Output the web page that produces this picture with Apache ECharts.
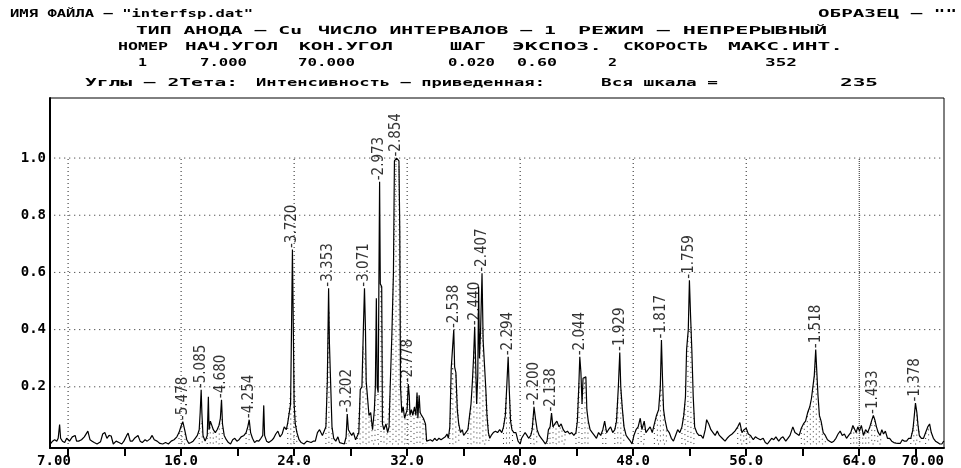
<!DOCTYPE html>
<html>
<head>
<meta charset="UTF-8">
<title>interfsp.dat</title>
<style>
  * { margin: 0; padding: 0; }
  #chart { width: 961px; height: 468px; }
</style>
</head>
<body>
<div id="chart"></div>
<script src="https://cdn.jsdelivr.net/npm/echarts@6/dist/echarts.min.js"></script>
<script>
// спектр: [2Тета, приведенная интенсивность]
var spec07_16 = [[6.75,0.0],[6.9,0.01],[7.05,0.015],[7.2,0.01],[7.3,0.02],[7.4,0.068],[7.47,0.02],[7.6,0.01],[7.76,0.005],[7.9,0.02],[8.1,0.01],[8.3,0.025],[8.5,0.03],[8.6,0.01],[8.75,0.01],[8.95,0.015],[9.15,0.025],[9.4,0.045],[9.55,0.015],[9.7,0.01],[9.85,0.005],[10.05,0.0],[10.3,0.008],[10.45,0.035],[10.6,0.04],[10.75,0.02],[10.9,0.03],[11.05,0.028],[11.2,0.0],[11.4,0.01],[11.6,0.005],[11.8,0.0],[11.95,0.01],[12.15,0.03],[12.25,0.038],[12.4,0.01],[12.55,0.01],[12.7,0.02],[12.95,0.03],[13.1,0.01],[13.25,0.005],[13.45,0.015],[13.6,0.01],[13.8,0.018],[13.95,0.03],[14.1,0.015],[14.3,0.01],[14.5,0.002],[14.7,0.0],[14.9,0.005],[15.1,0.0],[15.3,0.01],[15.5,0.015],[15.7,0.025],[15.85,0.04]];
var spec16_24 = [[15.98,0.06],[16.12,0.078],[16.25,0.05],[16.4,0.015],[16.55,0.002],[16.7,0.005],[16.85,0.01],[17.0,0.02],[17.15,0.03],[17.28,0.05],[17.35,0.11],[17.42,0.19],[17.47,0.11],[17.55,0.03],[17.7,0.01],[17.85,0.03],[17.93,0.165],[17.98,0.05],[18.07,0.08],[18.15,0.077],[18.28,0.05],[18.42,0.04],[18.55,0.05],[18.68,0.065],[18.78,0.09],[18.86,0.155],[18.93,0.07],[19.05,0.03],[19.2,0.015],[19.35,0.005],[19.5,0.0],[19.65,0.015],[19.8,0.02],[19.95,0.01],[20.1,0.015],[20.25,0.025],[20.45,0.03],[20.6,0.04],[20.72,0.06],[20.82,0.085],[20.92,0.04],[21.05,0.02],[21.2,0.005],[21.35,0.012],[21.5,0.01],[21.65,0.02],[21.78,0.03],[21.85,0.135],[21.91,0.03],[22.05,0.01],[22.2,0.005],[22.4,0.012],[22.55,0.02],[22.7,0.035],[22.85,0.045],[23.0,0.025],[23.15,0.035],[23.3,0.06],[23.45,0.05],[23.55,0.075],[23.65,0.07],[23.75,0.14],[23.82,0.42],[23.88,0.68],[23.94,0.42]];
var spec24_32 = [[24.0,0.14],[24.08,0.07],[24.2,0.04],[24.35,0.015],[24.5,0.005],[24.7,0.0],[24.9,0.01],[25.05,0.008],[25.2,0.005],[25.35,0.01],[25.5,0.01],[25.65,0.04],[25.8,0.05],[25.9,0.055],[26.0,0.03],[26.12,0.025],[26.25,0.06],[26.35,0.22],[26.44,0.545],[26.5,0.35],[26.58,0.22],[26.68,0.06],[26.8,0.02],[26.95,0.01],[27.1,0.025],[27.22,0.005],[27.35,0.0],[27.55,0.0],[27.68,0.025],[27.76,0.105],[27.84,0.05],[27.95,0.04],[28.08,0.03],[28.2,0.04],[28.35,0.015],[28.45,0.01],[28.58,0.04],[28.68,0.19],[28.8,0.2],[28.9,0.4],[28.98,0.545],[29.05,0.4],[29.1,0.22],[29.22,0.22],[29.3,0.1],[29.42,0.11],[29.55,0.05],[29.68,0.12],[29.75,0.2],[29.82,0.51],[29.88,0.2],[29.95,0.18],[30.0,0.56],[30.05,0.917],[30.1,0.56],[30.2,0.55],[30.25,0.07],[30.35,0.05],[30.5,0.07],[30.62,0.04],[30.72,0.06],[30.8,0.2],[30.92,0.385],[31.03,0.6],[31.1,0.99],[31.25,1.0],[31.42,0.99],[31.48,0.74],[31.53,0.2],[31.62,0.11],[31.72,0.13],[31.82,0.09],[31.92,0.095]];
var spec32_40 = [[32.0,0.12],[32.08,0.21],[32.15,0.17],[32.2,0.1],[32.3,0.12],[32.4,0.1],[32.52,0.13],[32.62,0.1],[32.7,0.18],[32.76,0.09],[32.85,0.17],[32.92,0.11],[33.02,0.1],[33.15,0.09],[33.3,0.07],[33.38,0.01],[33.5,0.005],[33.65,0.015],[33.8,0.01],[33.95,0.02],[34.1,0.012],[34.25,0.02],[34.4,0.015],[34.55,0.02],[34.7,0.025],[34.82,0.035],[34.92,0.02],[35.02,0.06],[35.12,0.265],[35.22,0.265],[35.3,0.40],[35.36,0.27],[35.45,0.25],[35.55,0.12],[35.65,0.07],[35.78,0.04],[35.9,0.05],[36.0,0.03],[36.15,0.04],[36.3,0.05],[36.42,0.1],[36.52,0.14],[36.62,0.22],[36.7,0.3],[36.78,0.41],[36.84,0.3],[36.92,0.14],[37.0,0.24],[37.06,0.55],[37.12,0.3],[37.2,0.4],[37.3,0.597],[37.38,0.36],[37.48,0.36],[37.56,0.2],[37.65,0.1],[37.75,0.04],[37.85,0.02],[37.95,0.03],[38.1,0.04],[38.25,0.045],[38.4,0.04],[38.55,0.05],[38.7,0.04],[38.82,0.06],[38.95,0.1],[39.05,0.2],[39.15,0.305],[39.22,0.2],[39.32,0.08],[39.42,0.05],[39.55,0.04],[39.7,0.04],[39.85,0.01]];
var spec40_48 = [[40.0,0.0],[40.1,0.02],[40.2,0.015],[40.35,0.04],[40.48,0.03],[40.6,0.02],[40.75,0.03],[40.85,0.05],[40.98,0.13],[41.08,0.09],[41.2,0.05],[41.35,0.03],[41.5,0.02],[41.65,0.01],[41.78,0.0],[41.9,0.01],[42.0,0.05],[42.12,0.06],[42.22,0.108],[42.32,0.06],[42.45,0.07],[42.6,0.08],[42.75,0.06],[42.9,0.07],[43.05,0.05],[43.2,0.04],[43.35,0.045],[43.5,0.035],[43.65,0.04],[43.8,0.03],[43.95,0.04],[44.05,0.08],[44.15,0.2],[44.22,0.305],[44.3,0.25],[44.38,0.14],[44.45,0.23],[44.5,0.235],[44.65,0.235],[44.72,0.12],[44.82,0.08],[44.95,0.05],[45.1,0.04],[45.25,0.03],[45.4,0.02],[45.55,0.04],[45.7,0.03],[45.85,0.05],[45.98,0.08],[46.12,0.04],[46.25,0.05],[46.4,0.06],[46.55,0.04],[46.7,0.05],[46.82,0.08],[46.95,0.2],[47.05,0.32],[47.12,0.2],[47.22,0.13],[47.35,0.06],[47.5,0.03],[47.65,0.02],[47.8,0.01],[47.92,0.0]];
var spec48_56 = [[48.05,0.03],[48.2,0.05],[48.35,0.06],[48.5,0.09],[48.62,0.05],[48.78,0.08],[48.9,0.04],[49.05,0.05],[49.2,0.06],[49.35,0.04],[49.5,0.07],[49.65,0.1],[49.8,0.12],[49.92,0.2],[50.0,0.364],[50.08,0.22],[50.15,0.12],[50.25,0.085],[50.4,0.05],[50.55,0.04],[50.7,0.02],[50.85,0.01],[51.0,0.03],[51.15,0.05],[51.3,0.04],[51.45,0.06],[51.58,0.1],[51.7,0.165],[51.78,0.33],[51.9,0.4],[51.98,0.573],[52.06,0.45],[52.15,0.33],[52.25,0.165],[52.35,0.06],[52.5,0.04],[52.65,0.03],[52.8,0.03],[52.95,0.02],[53.1,0.05],[53.2,0.085],[53.35,0.07],[53.5,0.05],[53.65,0.04],[53.8,0.03],[53.95,0.045],[54.1,0.03],[54.3,0.02],[54.5,0.01],[54.65,0.02],[54.85,0.03],[55.0,0.035],[55.2,0.045],[55.4,0.06],[55.55,0.075],[55.7,0.04],[55.85,0.05]];
var spec56_64 = [[56.0,0.055],[56.15,0.035],[56.3,0.03],[56.5,0.015],[56.65,0.025],[56.8,0.02],[57.0,0.015],[57.2,0.02],[57.35,0.005],[57.5,0.0],[57.65,0.01],[57.8,0.02],[57.95,0.015],[58.1,0.025],[58.3,0.01],[58.45,0.02],[58.6,0.025],[58.8,0.01],[58.95,0.02],[59.1,0.03],[59.3,0.06],[59.45,0.04],[59.6,0.035],[59.75,0.03],[59.9,0.055],[60.05,0.07],[60.2,0.08],[60.35,0.11],[60.5,0.13],[60.62,0.16],[60.72,0.2],[60.82,0.24],[60.92,0.33],[61.0,0.25],[61.08,0.17],[61.18,0.1],[61.3,0.08],[61.45,0.04],[61.6,0.03],[61.75,0.015],[61.9,0.01],[62.05,0.005],[62.2,0.01],[62.35,0.02],[62.5,0.035],[62.65,0.045],[62.8,0.03],[62.95,0.035],[63.1,0.02],[63.25,0.03],[63.4,0.04],[63.55,0.065],[63.65,0.07],[63.78,0.04],[63.9,0.06]];
var spec64_70 = [[64.02,0.045],[64.15,0.065],[64.3,0.03],[64.45,0.05],[64.6,0.04],[64.75,0.06],[64.9,0.085],[65.0,0.10],[65.1,0.085],[65.22,0.06],[65.35,0.04],[65.48,0.03],[65.6,0.05],[65.72,0.035],[65.85,0.045],[66.0,0.02],[66.15,0.02],[66.3,0.01],[66.45,0.005],[66.6,0.003],[66.75,0.002],[66.9,0.002],[67.05,0.015],[67.2,0.01],[67.35,0.01],[67.5,0.02],[67.65,0.02],[67.8,0.05],[67.9,0.1],[67.98,0.143],[68.08,0.11],[68.15,0.07],[68.25,0.03],[68.4,0.02],[68.55,0.02],[68.7,0.04],[68.85,0.06],[68.98,0.07],[69.1,0.04],[69.25,0.02],[69.4,0.01],[69.55,0.005],[69.7,0.0],[69.85,0.0],[69.95,0.008],[70.0,0.01]];

// пики: угол, высота, межплоскостное расстояние
var peakAngles  = [16.12, 17.42, 18.86, 20.82, 23.88, 26.44, 27.76, 28.98, 30.05, 31.25, 32.08, 35.3, 36.78, 37.3, 39.15, 40.98, 42.22, 44.22, 47.05, 50.0, 51.98, 60.92, 65.0, 67.98];
var peakHeights = [0.078, 0.19, 0.155, 0.085, 0.68, 0.545, 0.105, 0.545, 0.917, 1.0, 0.21, 0.40, 0.41, 0.597, 0.305, 0.13, 0.108, 0.305, 0.32, 0.364, 0.573, 0.33, 0.10, 0.143];
var peakD = ['5.478', '5.085', '4.680', '4.254', '3.720', '3.353', '3.202', '3.071', '2.973', '2.854', '2.778', '2.538', '2.440', '2.407', '2.294', '2.200', '2.138', '2.044', '1.929', '1.817', '1.759', '1.518', '1.433', '1.378'];

// участки, залитые точками
var fillRanges = [[15.85, 16.4], [17.28, 17.55], [17.85, 19.05], [20.6, 20.95], [23.55, 24.2], [26.25, 26.68], [27.68, 27.95], [28.45, 33.38], [35.02, 35.78], [36.3, 37.85], [38.82, 39.55], [40.75, 41.35], [41.9, 43.2], [43.95, 44.95], [45.85, 46.12], [46.7, 47.5], [48.35, 48.78], [49.5, 50.4], [51.45, 52.5], [55.4, 56.3], [59.9, 61.6], [63.4, 65.6], [67.65, 68.4], [68.7, 69.1]];

var xTicks = [8, 12, 16, 20, 24, 28, 32, 36, 40, 44, 48, 52, 56, 60, 64, 68];
var xLabels = [7, 16, 24, 32, 40, 48, 56, 64, 70];
var yLabels = [0.2, 0.4, 0.6, 0.8, 1.0];
var vGrid = [8, 16, 24, 32, 40, 48, 56, 64];
var hGrid = [0.2, 0.4, 0.6, 0.8, 1.0];

var X_MIN = 6.72, X_MAX = 70, Y_MIN = -0.014, Y_MAX = 1.21;
var G_LEFT = 50, G_RIGHT = 17, G_TOP = 98, G_BOTTOM = 20;

var chart = echarts.init(document.getElementById('chart'));

var spectrum = [].concat(spec07_16, spec16_24, spec24_32, spec32_40, spec40_48, spec48_56, spec56_64, spec64_70);
var peaks = peakAngles.map(function (a, i) { return [a, peakHeights[i], peakD[i]]; });

// точечная штриховка: пунктирные столбики через 3 px под кривой
var pxX = (961 - G_LEFT - G_RIGHT) / (X_MAX - X_MIN);
var pxY = (468 - G_TOP - G_BOTTOM) / (Y_MAX - Y_MIN);
function curveAt(x) {
	for (var i = 1; i < spectrum.length; i++) {
		if (spectrum[i][0] >= x) {
			var a = spectrum[i - 1], b = spectrum[i];
			return a[1] + (b[1] - a[1]) * (x - a[0]) / (b[0] - a[0]);
		}
	}
	return 0;
}
var stippleSeries = fillRanges.map(function (r) {
	var pts = [], up = true;
	for (var x = r[0]; x <= r[1]; x += 3 / pxX) {
		var top = Math.max(curveAt(x) - 1.5 / pxY, 0);
		if (up) { pts.push([x, 0], [x, top]); } else { pts.push([x, top], [x, 0]); }
		up = !up;
	}
	return {
		type: 'line', data: pts, symbol: 'none', silent: true, z: 3,
		lineStyle: { color: '#333', width: 1, type: [1, 4] }
	};
});

// линии сетки: отдельные линейные серии
var gridSeries = vGrid.map(function (v) {
	return {
		type: 'line', data: [[v, Y_MIN], [v, 1.0]], symbol: 'none', silent: true, z: 2,
		lineStyle: { color: '#222', width: 1, type: v === 64 ? [1, 1] : [1, 3] }
	};
}).concat(hGrid.map(function (v) {
	return {
		type: 'line', data: [[X_MIN + 0.3, v], [X_MAX, v]], symbol: 'none', silent: true, z: 2,
		lineStyle: { color: '#222', width: 1, type: [1, 4] }
	};
}));

// шапка: растягиваем текст по ширине как в оригинале
var HFONT = 'bold 11px "DejaVu Sans Mono"';
var mctx = document.createElement('canvas').getContext('2d');
mctx.font = HFONT;
function hdr(text, left, right, y) {
	var w = mctx.measureText(text).width;
	return {
		type: 'text', x: left, y: y, scaleX: (right - left) / w, silent: true,
		style: { text: text, font: HFONT, fill: '#000', textAlign: 'left', textVerticalAlign: 'middle' }
	};
}
var header = [
	hdr('ИМЯ ФАЙЛА – "interfsp.dat"', 10, 253, 14),
	hdr('ОБРАЗЕЦ – ""', 818, 957, 14),
	hdr('ТИП АНОДА – Cu', 136, 302, 31),
	hdr('ЧИСЛО ИНТЕРВАЛОВ – 1', 318, 556, 31),
	hdr('РЕЖИМ – НЕПРЕРЫВНЫЙ', 578, 827, 31),
	hdr('НОМЕР', 118, 168, 47),
	hdr('НАЧ.УГОЛ', 185, 278, 47),
	hdr('КОН.УГОЛ', 299, 393, 47),
	hdr('ШАГ', 450, 486, 47),
	hdr('ЭКСПОЗ.', 512, 602, 47),
	hdr('СКОРОСТЬ', 623, 708, 47),
	hdr('МАКС.ИНТ.', 728, 843, 47),
	hdr('1', 138, 147, 63),
	hdr('7.000', 200, 247, 63),
	hdr('70.000', 298, 355, 63),
	hdr('0.020', 448, 495, 63),
	hdr('0.60', 517, 557, 63),
	hdr('2', 608, 617, 63),
	hdr('352', 765, 797, 63),
	hdr('Углы – 2Тета:', 85, 238, 83),
	hdr('Интенсивность – приведенная:', 256, 545, 83),
	hdr('Вся шкала =', 601, 718, 83),
	hdr('235', 840, 878, 83)
];

chart.setOption({
	animation: false,
	graphic: header,
	grid: {
		left: G_LEFT, right: G_RIGHT, top: G_TOP, bottom: G_BOTTOM,
		show: true, borderColor: '#000', borderWidth: 1,
		backgroundColor: 'transparent',
		outerBoundsMode: 'none'
	},
	xAxis: {
		type: 'value', min: X_MIN, max: X_MAX,
		axisLine: { onZero: false, lineStyle: { color: '#000', width: 2 } },
		axisTick: { show: true, customValues: xTicks, length: 8, lineStyle: { color: '#000', width: 2 } },
		axisLabel: {
			customValues: xLabels, margin: 6, color: '#000',
			fontFamily: 'DejaVu Sans Mono', fontWeight: 'bold', fontSize: 14,
			alignMaxLabel: 'right',
			formatter: function (v) { return (v === 7 || v === 70) ? v.toFixed(2) : v.toFixed(1); }
		},
		splitLine: { show: false }
	},
	yAxis: {
		type: 'value', min: Y_MIN, max: Y_MAX,
		axisLine: { show: true, onZero: false, lineStyle: { color: '#000', width: 2 } },
		axisTick: { show: false },
		axisLabel: {
			customValues: yLabels, margin: 4, color: '#000',
			fontFamily: 'DejaVu Sans Mono', fontWeight: 'bold', fontSize: 14,
			formatter: function (v) { return v.toFixed(1); }
		},
		splitLine: { show: false }
	},
	series: gridSeries.concat(stippleSeries, [
		{
			type: 'line', data: spectrum, symbol: 'none', silent: true, z: 6,
			lineStyle: { color: '#000', width: 1.2 }
		},
		{
			type: 'scatter', data: peaks, symbolSize: 1, silent: true, z: 7,
			itemStyle: { color: 'rgba(0,0,0,0)' },
			label: {
				show: true, position: 'top', distance: 1, rotate: 90,
				align: 'left', verticalAlign: 'middle',
				fontFamily: 'DejaVu Sans Condensed', fontSize: 15, color: '#000',
				formatter: function (p) { return '-' + p.data[2]; }
			}
		}
	])
});
</script>
</body>
</html>
